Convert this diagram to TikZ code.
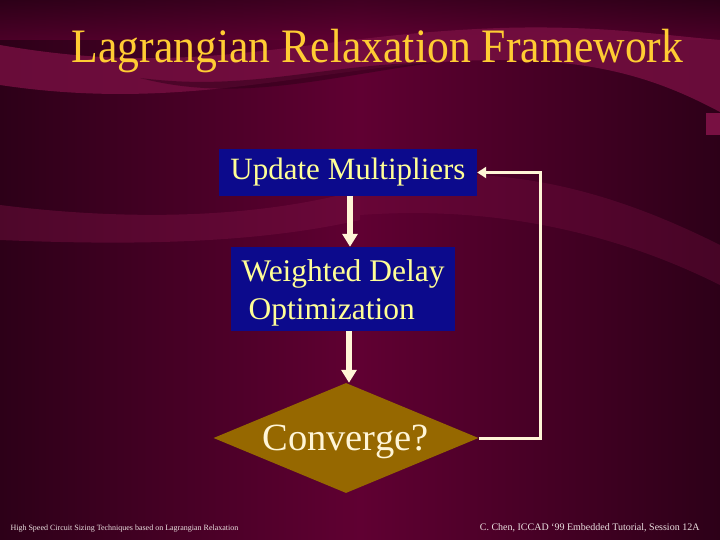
\documentclass[tikz,border=0pt]{standalone}
\usepackage{fontspec}
\setmainfont{Liberation Serif}
\usetikzlibrary{shapes.geometric,arrows.meta}
\definecolor{bgdark}{RGB}{45,0,24}
\definecolor{bgmid}{RGB}{96,0,50}
\definecolor{swoosh}{RGB}{120,16,66}
\definecolor{boxblue}{RGB}{12,10,140}
\definecolor{titleyellow}{RGB}{255,204,51}
\definecolor{textyellow}{RGB}{255,255,150}
\definecolor{cream}{RGB}{255,245,215}
\definecolor{diamondgold}{RGB}{150,104,0}
\definecolor{foot}{RGB}{235,225,225}
\begin{document}
\begin{tikzpicture}[x=1pt,y=1pt,
  procbox/.style={fill=boxblue,text=textyellow,inner sep=0pt,font=\fontsize{31}{38}\selectfont},
  flowarrow/.style={draw=cream,line width=5.5pt,-{Triangle[length=13pt,width=15pt]}},
  looparrow/.style={draw=cream,line width=3pt,-{Triangle[length=9pt,width=11pt]}}]
\useasboundingbox (0,0) rectangle (720,-540);
% background
\shade[left color=bgdark,right color=bgdark,middle color=bgmid] (0,0) rectangle (720,-540);
\shade[top color=bgdark,bottom color=bgmid,opacity=0.6] (0,0) rectangle (720,-40);
\fill[swoosh,opacity=0.8] (0,-45) .. controls (200,-80) and (300,-35) .. (500,-28) .. controls (600,-25) and (660,-35) .. (720,-40) -- (720,-112) .. controls (660,-80) and (600,-60) .. (500,-60) .. controls (330,-60) and (200,-115) .. (0,-85) -- cycle;
\fill[bgdark,opacity=0.5] (140,-78) .. controls (250,-92) and (320,-64) .. (440,-62) .. controls (330,-76) and (240,-104) .. (140,-78) -- cycle;
\fill[swoosh,opacity=0.45] (0,-205) .. controls (120,-220) and (250,-220) .. (360,-190) -- (360,-220) .. controls (250,-245) and (120,-245) .. (0,-240) -- cycle;
\fill[swoosh,opacity=0.35] (360,-185) .. controls (500,-155) and (620,-195) .. (720,-245) -- (720,-285) .. controls (620,-235) and (500,-205) .. (360,-215) -- cycle;
\fill[swoosh] (706,-113) rectangle (720,-135);
% title
\node[text=titleyellow,anchor=base,font=\fontsize{48}{52}\selectfont] (title) at (377.5,-63) {\scalebox{0.91}[1]{Lagrangian Relaxation Framework}};
% boxes
\node[procbox,minimum width=258pt,minimum height=47pt] (upd) at (348,-172.5) {Update Multipliers};
\node[procbox,minimum width=224pt,minimum height=84pt,align=left] (wdo) at (343,-289) {};
\node[text=textyellow,anchor=base west,font=\fontsize{31.5}{38}\selectfont] (wdo1) at (238,-281) {Weighted Delay};
\node[text=textyellow,anchor=base west,font=\fontsize{31.5}{38}\selectfont] (wdo2) at (245,-319) {Optimization};
\node[diamond,fill=diamondgold,inner sep=0pt,minimum width=265pt,minimum height=110pt,aspect=2.4] (conv) at (346,-438) {};
\node[text=cream,font=\fontsize{38.5}{44}\selectfont,anchor=base] (convtxt) at (345.5,-450) {Converge?};
% arrows
\draw[flowarrow] (upd.south -| 350,0) -- (wdo.north -| 350,0);
\draw[flowarrow] (wdo.south -| 349,0) -- (conv.north -| 349,0);
\coordinate (c1) at (conv.east -| 540,0);
\coordinate (c2) at (upd.east -| 540,0);
\draw[looparrow] (conv.east) -- (c1) -- (c2) -- (upd.east);
% footers
\node[text=foot,anchor=base west,font=\fontsize{8}{9}\selectfont] (fl) at (7,-530) {High Speed Circuit Sizing Techniques based on Lagrangian Relaxation};
\node[text=foot,anchor=base east,font=\fontsize{10}{12}\selectfont] (fr) at (703,-530) {C. Chen, ICCAD ‘99 Embedded Tutorial, Session 12A};
\end{tikzpicture}
\end{document}
